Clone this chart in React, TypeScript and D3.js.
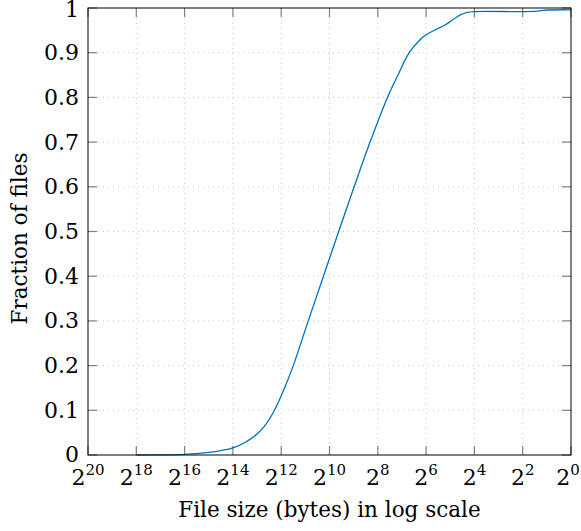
import React from "react";
import * as d3 from "d3";

// exponent of file size (log2 bytes) and cumulative fraction of files
const sizeExponents = [18, 17, 16, 15, 14.5, 14, 13.5, 13, 12.7, 12.3, 11.9, 11.5, 10.88, 10.25, 9.62, 8.98, 8.32, 7.6, 7.2, 6.7, 6.25, 6, 5.7, 5.22, 4.94, 4.6, 4.3, 4, 2, 1.4, 1, 0];
const fractions = [0, 0.0003, 0.0012, 0.006, 0.010, 0.016, 0.028, 0.047, 0.064, 0.098, 0.145, 0.2, 0.3, 0.4, 0.5, 0.6, 0.7, 0.8, 0.846, 0.9, 0.929, 0.94, 0.949, 0.962, 0.972, 0.984, 0.99, 0.992, 0.992, 0.993, 0.9955, 0.996];
const xTickExponents = [20, 18, 16, 14, 12, 10, 8, 6, 4, 2, 0];
const yTicks = [0, 0.1, 0.2, 0.3, 0.4, 0.5, 0.6, 0.7, 0.8, 0.9, 1];
const xLabel = "File size (bytes) in log scale";
const yLabel = "Fraction of files";

const W = 581, H = 531;
const left = 88, right = 571, top = 8, bottom = 455;
const FONT = "'DejaVu Serif', 'Liberation Serif', serif";

export default function App() {
  const x = d3.scaleLinear().domain([20, 0]).range([left, right]);
  const y = d3.scaleLinear().domain([0, 1]).range([bottom, top]);
  const pts: [number, number][] = sizeExponents.map((e, i) => [x(e), y(fractions[i])]);
  const line = d3.line().curve(d3.curveCatmullRom.alpha(0.5))(pts) || "";
  const tickLen = 9;
  return (
    <svg width={W} height={H} style={{ position: "absolute", left: 0, top: 0, background: "#fff" }}>
      <rect width={W} height={H} fill="#fff" />
      {xTickExponents.slice(1, -1).map((e) => (
        <line key={"gx" + e} x1={x(e)} x2={x(e)} y1={top} y2={bottom} stroke="#c8c8c8" strokeWidth={1} strokeDasharray="1 4" />
      ))}
      {yTicks.slice(1, -1).map((v) => (
        <line key={"gy" + v} x1={left} x2={right} y1={y(v)} y2={y(v)} stroke="#c8c8c8" strokeWidth={1} strokeDasharray="1 4" />
      ))}
      {xTickExponents.map((e) => (
        <g key={"tx" + e} stroke="#808080" strokeWidth={1.2}>
          <line x1={x(e)} x2={x(e)} y1={bottom} y2={bottom - tickLen} />
          <line x1={x(e)} x2={x(e)} y1={top} y2={top + tickLen} />
        </g>
      ))}
      {yTicks.map((v) => (
        <g key={"ty" + v} stroke="#808080" strokeWidth={1.2}>
          <line x1={left} x2={left + tickLen} y1={y(v)} y2={y(v)} />
          <line x1={right} x2={right - tickLen} y1={y(v)} y2={y(v)} />
        </g>
      ))}
      <path d={line} fill="none" stroke="rgb(0,114,189)" strokeWidth={1.3} />
      <rect x={left} y={top} width={right - left} height={bottom - top} fill="none" stroke="#000" strokeWidth={1} />
      <g style={{ fontFamily: FONT }} fill="#000">
        {xTickExponents.map((e) => (
          <text key={"lx" + e} x={Math.min(x(e), 568)} y={485} textAnchor="middle" fontSize={22}>
            2<tspan dy={-10} fontSize={15}>{e}</tspan>
          </text>
        ))}
        {yTicks.map((v) => (
          <text key={"ly" + v} x={79} y={Math.max(y(v), 10)} dy="0.34em" textAnchor="end" fontSize={22}>
            {d3.format("")(v)}
          </text>
        ))}
        <text x={(left + right) / 2} y={517} textAnchor="middle" fontSize={21.5}>{xLabel}</text>
        <text transform={`translate(27, ${(top + bottom) / 2 + 7}) rotate(-90)`} textAnchor="middle" fontSize={21.5}>{yLabel}</text>
      </g>
    </svg>
  );
}
